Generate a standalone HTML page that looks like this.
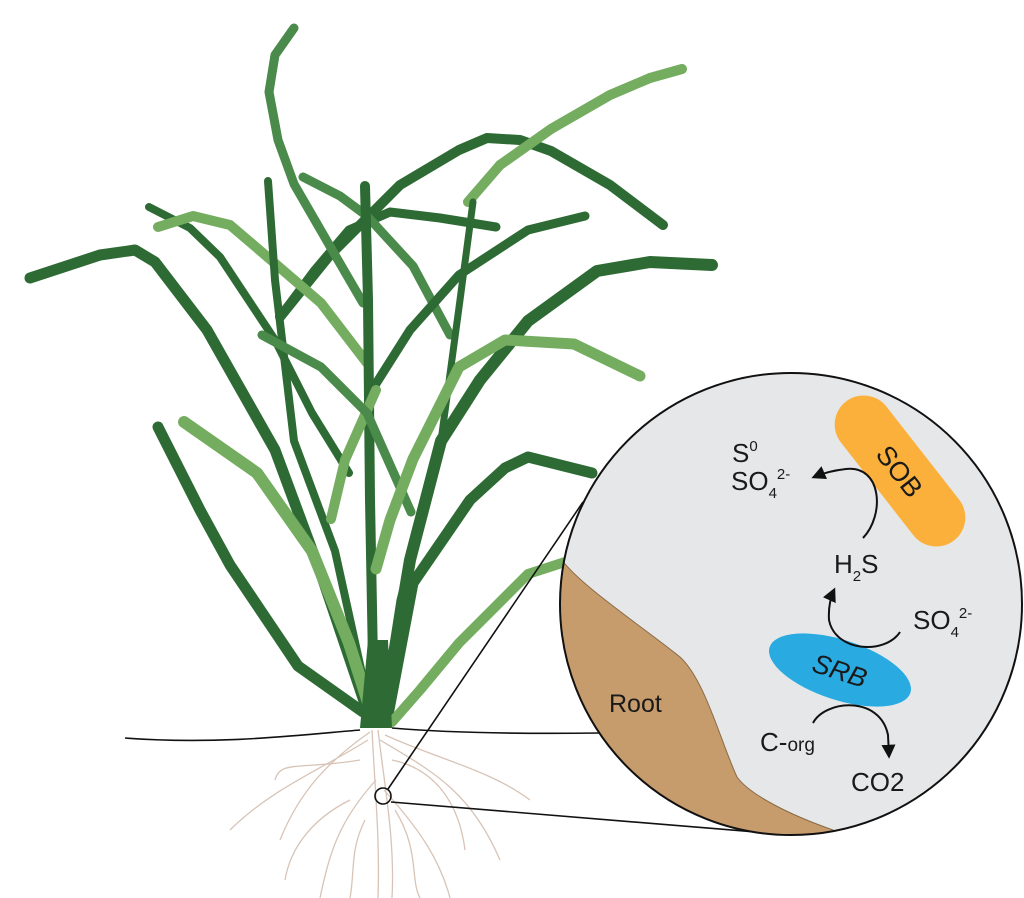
<!DOCTYPE html>
<html><head><meta charset="utf-8"><style>
html,body{margin:0;padding:0;background:#fff;}
svg{display:block;}
text{font-family:"Liberation Sans",Arial,sans-serif;fill:#1a1a1a;}
</style></head><body>
<svg width="1024" height="898" viewBox="0 0 1024 898" xmlns="http://www.w3.org/2000/svg">
<defs>
<clipPath id="cc"><circle cx="791" cy="604" r="231"/></clipPath>
<marker id="ah" viewBox="0 0 10 10" refX="8" refY="5" markerWidth="7" markerHeight="7" orient="auto"><path d="M0,0 L10,5 L0,10 Z" fill="#111"/></marker>
</defs>
<!-- roots -->
<g stroke="#d8c4b6" stroke-width="1.3" fill="none">
<path d="M372,730 C375,790 380,840 378,898"/>
<path d="M378,730 C385,790 395,840 392,898"/>
<path d="M370,732 C330,760 300,790 280,840"/>
<path d="M368,740 C320,770 270,790 230,830"/>
<path d="M380,740 C430,770 470,790 500,860"/>
<path d="M385,735 C440,760 490,770 530,800"/>
<path d="M376,780 C340,820 330,850 320,898"/>
<path d="M384,790 C420,830 440,860 450,898"/>
<path d="M360,760 C300,770 280,760 275,780"/>
<path d="M392,760 C440,770 460,810 465,850"/>
<path d="M350,800 C310,820 290,850 285,880"/>
<path d="M395,810 C420,850 410,880 420,898"/>
<path d="M365,820 C350,850 355,870 350,898"/>
</g>
<!-- ground line -->
<path d="M125,738 C220,745 300,735 360,730" stroke="#111" stroke-width="1.6" fill="none"/>
<path d="M392,728 C450,733 520,734 600,733" stroke="#111" stroke-width="1.6" fill="none"/>
<!-- leaves -->
<g fill="none" stroke-linejoin="round" stroke-linecap="round">
<!-- back layer -->
<polyline stroke="#2e6b34" stroke-width="9" points="280,317 315,270 349,230 390,212 440,218 496,227"/>
<polyline stroke="#2e6b34" stroke-width="10" points="280,317 330,255 400,185 459,150 487,138 520,140 551,151 610,185 663,225"/>
<polyline stroke="#74ad5f" stroke-width="10" points="468,202 500,165 551,129 610,95 650,78 682,69"/>
<polyline stroke="#4a8a4a" stroke-width="9" points="294,28 275,55 269,92 278,140 294,184 331,248 363,303"/>
<polyline stroke="#4a8a4a" stroke-width="9" points="303,177 340,196 367,216 413,266 450,335"/>
<polyline stroke="#2e6b34" stroke-width="8" points="149,207 190,228 220,257 275,340 312,413 349,473"/>
<polyline stroke="#74ad5f" stroke-width="10" points="158,227 193,216 230,225 257,248 321,303 367,363"/>
<polyline stroke="#2e6b34" stroke-width="9" points="372,390 410,330 459,275 528,230 585,216"/>
<polyline stroke="#2e6b34" stroke-width="11" points="30,278 100,255 135,250 155,262 207,330 275,450 321,574 367,710"/>
<polyline stroke="#2e6b34" stroke-width="8" points="268,181 275,280 294,441 335,551 370,710"/>
<polyline stroke="#2e6b34" stroke-width="10" points="365,186 368,300 370,500 374,715"/>
<polyline stroke="#2e6b34" stroke-width="7" points="473,202 460,300 441,441 400,600 382,715"/>
<polyline stroke="#74ad5f" stroke-width="10" points="331,519 345,460 376,390"/>
<polyline stroke="#4a8a4a" stroke-width="9" points="262,335 321,367 367,413 411,512"/>
<polyline stroke="#2e6b34" stroke-width="12" points="384,715 410,560 441,441 480,380 528,321 597,271 650,262 712,265"/>
<polyline stroke="#74ad5f" stroke-width="11" points="376,569 390,520 413,459 459,367 505,340 574,344 640,376"/>
<polyline stroke="#2e6b34" stroke-width="11" points="388,715 413,583 470,500 505,468 528,457 592,473"/>
<polyline stroke="#74ad5f" stroke-width="10" points="392,722 420,690 459,643 528,574 565,562"/>
<polyline stroke="#2e6b34" stroke-width="11" points="158,427 200,510 230,565 298,666 363,712"/>
<polyline stroke="#74ad5f" stroke-width="12" points="184,422 257,473 312,551 349,643 372,715"/>
<path d="M360,728 L368,640 L388,640 L392,728 Z" fill="#2e6b34" stroke="none"/>
</g>
<!-- magnifier lines -->
<circle cx="383" cy="796" r="8" fill="none" stroke="#111" stroke-width="1.6"/>
<line x1="388" y1="789" x2="583" y2="502" stroke="#111" stroke-width="1.6"/>
<line x1="391" y1="802" x2="792" y2="835" stroke="#111" stroke-width="1.6"/>
<!-- circle -->
<circle cx="791" cy="604" r="231" fill="#e6e7e8"/>
<g clip-path="url(#cc)">
<path d="M540,555 L562,560 C580,585 640,625 680,657 C705,680 720,740 737,777 C750,795 790,815 833,830 L833,870 L540,870 Z" fill="#c69c6d" stroke="#8b6a45" stroke-width="1"/>
</g>
<circle cx="791" cy="604" r="231" fill="none" stroke="#111" stroke-width="2"/>
<!-- SOB -->
<g transform="translate(900,471) rotate(52)">
<rect x="-88" y="-29" width="176" height="58" rx="29" fill="#fbb03b"/>
<text x="0" y="10" font-size="27" text-anchor="middle">SOB</text>
</g>
<!-- SRB -->
<g transform="translate(840,670) rotate(18)">
<ellipse cx="0" cy="0" rx="74" ry="30" fill="#29abe2"/>
<text x="0" y="10" font-size="27" text-anchor="middle" font-style="italic">SRB</text>
</g>
<!-- labels -->
<text x="732" y="462" font-size="26">S<tspan font-size="15" dy="-11">0</tspan></text>
<text x="731" y="490" font-size="26">SO<tspan font-size="15" dy="8">4</tspan><tspan font-size="15" dy="-19">2-</tspan></text>
<text x="834" y="573" font-size="26">H<tspan font-size="15" dy="8">2</tspan><tspan dy="-8">S</tspan></text>
<text x="913" y="629" font-size="26">SO<tspan font-size="15" dy="8">4</tspan><tspan font-size="15" dy="-19">2-</tspan></text>
<text x="609" y="712" font-size="25">Root</text>
<text x="760" y="751" font-size="26">C-<tspan font-size="19">org</tspan></text>
<text x="851" y="791" font-size="26">CO2</text>
<!-- arrows -->
<g stroke="#111" stroke-width="2" fill="none">
<path d="M863,538 C885,515 882,465 846,469 Q828,471 814,477" marker-end="url(#ah)"/>
<path d="M900,632 C885,655 835,652 829,620 Q828,603 834,590" marker-end="url(#ah)"/>
<path d="M813,723 C825,700 880,695 888,735 L889,756" marker-end="url(#ah)"/>
</g>
</svg>
</body></html>
